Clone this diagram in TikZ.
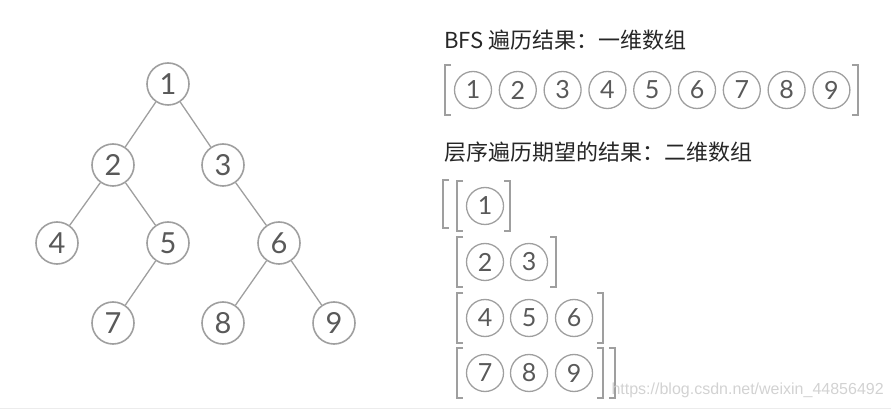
\documentclass[tikz,border=0pt]{standalone}
\usepackage{fontspec}
\setmainfont{Lato}
\newfontfamily\cjk{Noto Sans CJK SC}
\begin{document}
\begin{tikzpicture}[x=1pt,y=-1pt,
  tn/.style={circle,draw=gray!75,line width=1.6pt,minimum size=42pt,inner sep=0pt,font=\fontsize{29}{29}\selectfont,text=black!65},
  sn/.style={circle,draw=gray!75,line width=1.3pt,minimum size=37pt,inner sep=0pt,font=\fontsize{25}{25}\selectfont,text=black!65},
  edge/.style={draw=gray!75,line width=1.3pt},
  br/.style={draw=gray!75,line width=1.2pt},
  ttl/.style={anchor=west,font=\cjk\fontsize{22}{22}\selectfont,text=black!85}]
\useasboundingbox (0,0) rectangle (891,411);
% tree
\node[tn] (t1) at (168,84) {1};
\node[tn] (t2) at (113,165) {2};
\node[tn] (t3) at (223,165) {3};
\node[tn] (t4) at (57,243) {4};
\node[tn] (t5) at (168,243) {5};
\node[tn] (t6) at (279,243) {6};
\node[tn] (t7) at (113,323) {7};
\node[tn] (t8) at (223,323) {8};
\node[tn] (t9) at (334,323) {9};
\foreach \a/\b in {t1/t2,t1/t3,t2/t4,t2/t5,t3/t6,t5/t7,t6/t8,t6/t9} \draw[edge] (\a) -- (\b);
% BFS
\node[ttl] (h1) at (441,40) {BFS 遍历结果：一维数组};
\foreach \n [count=\i] in {1,...,9} \node[sn] (b\n) at ({473+44.8*(\i-1)},90) {\n};
\draw[br] (451,65) -- (445,65) -- (445,115) -- (451,115);
\draw[br] (852,65) -- (858,65) -- (858,115) -- (852,115);
% levels
\node[ttl] (h2) at (441,152) {层序遍历期望的结果：二维数组};
\node[sn] (r1a) at (485,206) {1};
\node[sn] (r2a) at (485,262) {2};
\node[sn] (r2b) at (529,262) {3};
\node[sn] (r3a) at (485,318) {4};
\node[sn] (r3b) at (529,318) {5};
\node[sn] (r3c) at (574,318) {6};
\node[sn] (r4a) at (485,373) {7};
\node[sn] (r4b) at (529,373) {8};
\node[sn] (r4c) at (574,373) {9};
\draw[br] (449,180) -- (443,180) -- (443,228) -- (449,228);
\foreach \y/\r in {206/510,262/556,318/603,373/603}{
  \draw[br] (463,\y-25) -- (457,\y-25) -- (457,\y+25) -- (463,\y+25);
  \draw[br] (\r-6,\y-25) -- (\r,\y-25) -- (\r,\y+25) -- (\r-6,\y+25);
}
\draw[br] (609,348) -- (615,348) -- (615,398) -- (609,398);
\node[anchor=west,font=\fontspec{Liberation Sans}\fontsize{16}{16}\selectfont,text=gray!35] (wm) at (608,390) {https://blog.csdn.net/weixin\_44856492};
\draw[gray!15,line width=1pt] (0,408) -- (891,408);
\end{tikzpicture}
\end{document}
